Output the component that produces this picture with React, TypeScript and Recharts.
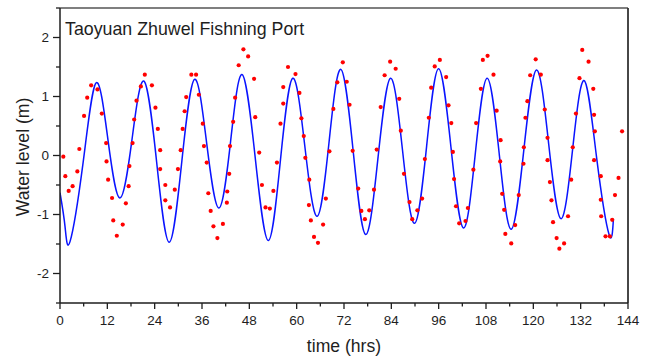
import React from 'react';
import { ComposedChart, Line, Scatter, XAxis, YAxis, ReferenceLine, Customized } from 'recharts';

// Model (blue line) – read at extremes and mid-points
const modelTime = [0, 1.27, 2.54, 5.84, 9.13, 12.17, 15.2, 18.25, 21.3, 24.5, 27.7, 30.9, 34.1, 37.2, 40.3, 43.25, 46.2, 49.5, 52.8, 55.9, 59.0, 62.1, 65.2, 68.2, 71.2, 74.35, 77.5, 80.65, 83.8, 86.85, 89.9, 92.95, 96.0, 99.15, 102.3, 105.3, 108.3, 111.35, 114.4, 117.6, 120.8, 123.9, 127.0, 129.95, 132.9, 136.05, 139.2, 140.3];
const modelLevel = [-0.63, -1.2, -1.46, -0.13, 1.23, 0.26, -0.72, 0.27, 1.26, -0.11, -1.47, -0.09, 1.29, 0.2, -0.89, 0.24, 1.37, -0.04, -1.44, -0.07, 1.31, 0.14, -1.03, 0.22, 1.46, 0.06, -1.34, -0.02, 1.31, 0.08, -1.15, 0.16, 1.47, 0.12, -1.23, 0.04, 1.31, 0.03, -1.25, 0.1, 1.45, 0.19, -1.07, 0.1, 1.27, -0.04, -1.34, -1.08];

// Observations (red dots)
const obsTime = [
  0.84, 1.35, 2.2, 3.2, 4.4, 4.9, 6.1, 6.9, 7.9, 9.5, 10.6, 11.7, 11.8, 12.2, 13.2, 13.5, 14.4, 15.9, 16.7, 17.4, 17.6,
  18.4, 18.8, 19.4, 20.5, 21.5, 23.3, 24.2, 24.8, 25.4, 25.4, 26.7, 26.7, 27.9, 29.1, 29.9, 30.6, 31.1, 31.6, 32.0, 33.3, 34.5, 35.2, 36.2,
  36.5, 37.2, 37.6, 38.2, 38.9, 39.9, 41.3, 42.3, 42.4, 42.9, 43.1, 43.9, 44.4, 45.3, 46.5, 47.7, 49.2, 49.5, 50.5, 51.2, 52.1, 53.2, 54.1,
  55.0, 55.9, 56.6, 56.6, 57.8, 59.7, 60.7, 61.2, 61.8, 62.2, 63.2, 63.1, 63.6, 64.4, 65.4, 66.7, 67.4, 68.3, 69.3, 70.3, 71.7,
  72.7, 73.4, 74.2, 75.6, 76.4, 77.3, 78.4, 79.6, 80.3, 81.3, 82.3, 83.7, 85.1, 86.0, 86.4, 87.2, 88.6, 89.3, 90.6,
  91.8, 92.5, 93.5, 94.1, 95.0, 96.3, 97.9, 98.5, 99.2, 99.6, 99.9, 100.4, 101.2, 102.8, 103.4, 104.8, 105.5, 106.7, 107.2, 108.4,
  109.9, 110.7, 111.7, 111.6, 112.1, 112.6, 112.9, 114.4, 115.4, 116.3, 117.5, 117.6, 118.0, 118.5, 119.2, 120.6, 121.9, 122.9, 123.6, 123.6, 124.2, 124.6, 125.0, 125.9, 126.6,
  127.8, 128.8, 129.6, 130.0, 130.8, 131.7, 132.4, 134.0, 135.2, 135.4, 135.6, 135.4, 137.1, 137.1, 137.2, 138.3, 139.4, 140.0, 140.7, 141.6, 142.5,
];
const obsLevel = [
  -0.02, -0.35, -0.6, -0.52, -0.27, 0.11, 0.67, 0.98, 1.19, 1.12, 0.71, 0.21, -0.1, -0.41, -0.72, -1.1, -1.36, -1.17, -0.81, -0.52, -0.18,
  0.21, 0.61, 0.93, 1.17, 1.37, 1.19, 0.81, 0.45, 0.09, -0.23, -0.5, -0.76, -0.88, -0.58, -0.23, 0.09, 0.45, 0.75, 0.99, 1.37, 1.37, 1.03, 0.54,
  0.16, -0.12, -0.64, -0.94, -1.2, -1.4, -1.16, -0.8, -0.61, -0.31, 0.16, 0.57, 0.98, 1.53, 1.8, 1.68, 1.3, 0.65, 0.05, -0.5, -0.88, -0.9, -0.6,
  -0.12, 0.54, 0.88, 1.16, 1.5, 1.38, 1.06, 0.63, 0.33, -0.04, -0.41, -0.84, -1.1, -1.38, -1.48, -1.17, -0.73, 0.07, 0.79, 1.24, 1.58,
  1.25, 0.86, 0.08, -0.56, -0.94, -1.08, -0.93, -0.58, 0.1, 0.82, 1.36, 1.59, 1.47, 0.96, 0.42, -0.31, -0.79, -1.08, -0.93,
  -0.73, -0.06, 0.64, 1.15, 1.51, 1.62, 1.33, 0.85, 0.55, 0.06, -0.4, -0.86, -1.15, -1.11, -0.89, -0.24, 0.55, 1.13, 1.62, 1.69,
  1.37, 0.76, 0.26, -0.1, -0.65, -0.92, -1.33, -1.49, -1.18, -0.67, -0.14, 0.14, 0.64, 0.92, 1.36, 1.63, 1.37, 0.78, 0.3, -0.08, -0.45, -0.76, -1.13, -1.4, -1.58,
  -1.49, -1.03, -0.41, 0.14, 0.71, 1.31, 1.79, 1.59, 1.13, 0.69, 0.41, -0.08, -0.35, -0.75, -1.03, -1.37, -1.37, -1.09, -0.67, -0.38, 0.41,
];

const xTicks = [0, 6, 12, 18, 24, 30, 36, 42, 48, 54, 60, 66, 72, 78, 84, 90, 96, 102, 108, 114, 120, 126, 132, 138, 144];
const yTicks = [-2.5, -2, -1.5, -1, -0.5, 0, 0.5, 1, 1.5, 2, 2.5];

const modelData = modelTime.map((t, i) => ({ t, v: modelLevel[i] }));
const obsData = obsTime.map((t, i) => ({ t, v: obsLevel[i] }));

const FONT = '"Liberation Sans", Arial, Helvetica, sans-serif';
const INK = '#1e1e1e';

const XTick = (props: any) => {
  const { x, y, payload } = props;
  const v = payload.value;
  const major = v % 12 === 0;
  return (
    <g>
      <line x1={x} x2={x} y1={y} y2={y + (major ? 6 : 3.5)} stroke={INK} strokeWidth={1.3} />
      {major && (
        <text x={x} y={y + 22} textAnchor="middle" fontSize={13.5} fill={INK} fontFamily={FONT}>
          {v}
        </text>
      )}
    </g>
  );
};

const YTick = (props: any) => {
  const { x, y, payload } = props;
  const v = payload.value;
  const major = Number.isInteger(v);
  return (
    <g>
      <line x1={x - (major ? 7 : 4)} x2={x} y1={y} y2={y} stroke={INK} strokeWidth={1.3} />
      {major && (
        <text x={x - 11} y={y} dy="0.36em" textAnchor="end" fontSize={13.5} fill={INK} fontFamily={FONT}>
          {v}
        </text>
      )}
    </g>
  );
};

const TextLayer = () => (
  <g fontFamily={FONT} fill={INK}>
    <text x={65} y={34.5} fontSize={17.8}>Taoyuan Zhuwel Fishning Port</text>
    <text transform="translate(29,157) rotate(-90)" textAnchor="middle" fontSize={17.6}>Water level (m)</text>
    <text x={344} y={352} textAnchor="middle" fontSize={17.6}>time (hrs)</text>
  </g>
);

const Dot = (props: any) => {
  const { cx, cy } = props;
  if (cx == null || cy == null) return null;
  return <circle cx={cx} cy={cy} r={2.1} fill="#ff0000" />;
};

export default function App() {
  return (
    <div style={{ position: 'absolute', left: 0, top: 0, width: 656, height: 358, background: '#fff' }}>
      <ComposedChart width={656} height={358} margin={{ top: 8, right: 28, bottom: 0, left: 0 }}>
        <XAxis
          dataKey="t"
          type="number"
          domain={[0, 144]}
          ticks={xTicks}
          interval={0}
          allowDataOverflow
          height={55}
          tickSize={0}
          tickMargin={0}
          tickLine={false}
          tick={<XTick />}
          axisLine={{ stroke: INK, strokeWidth: 1.5 }}
        />
        <YAxis
          dataKey="v"
          type="number"
          domain={[-2.5, 2.5]}
          ticks={yTicks}
          interval={0}
          allowDataOverflow
          width={60}
          tickSize={0}
          tickMargin={0}
          tickLine={false}
          tick={<YTick />}
          axisLine={{ stroke: INK, strokeWidth: 1.5 }}
        />
        <ReferenceLine y={2.5} stroke="#555" strokeWidth={1.5} />
        <ReferenceLine x={144} stroke="#333" strokeWidth={1.8} />
        <Line
          data={modelData}
          dataKey="v"
          type="natural"
          stroke="#0a14ff"
          strokeWidth={1.5}
          dot={false}
          activeDot={false}
          isAnimationActive={false}
        />
        <Scatter data={obsData} dataKey="v" shape={<Dot />} isAnimationActive={false} />
        <Customized component={TextLayer} />
      </ComposedChart>
    </div>
  );
}
